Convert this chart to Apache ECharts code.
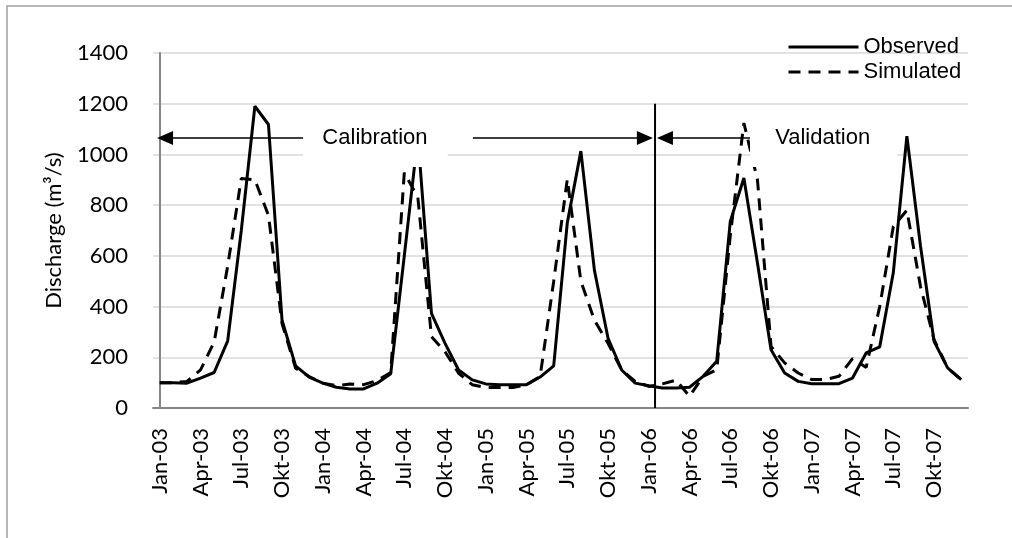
<!DOCTYPE html>
<html><head><meta charset="utf-8">
<script src="https://cdn.jsdelivr.net/npm/echarts@6/dist/echarts.min.js"></script>
<style>html,body{margin:0;padding:0;background:#fff}#c{width:1012px;height:538px}</style>
</head><body><div id="c"></div>
<script>
// ---- data ----
const categories = [
 'Jan-03','Feb-03','Mar-03','Apr-03','Mei-03','Jun-03','Jul-03','Agu-03','Sep-03','Okt-03','Nov-03','Des-03',
 'Jan-04','Feb-04','Mar-04','Apr-04','Mei-04','Jun-04','Jul-04','Agu-04','Sep-04','Okt-04','Nov-04','Des-04',
 'Jan-05','Feb-05','Mar-05','Apr-05','Mei-05','Jun-05','Jul-05','Agu-05','Sep-05','Okt-05','Nov-05','Des-05',
 'Jan-06','Feb-06','Mar-06','Apr-06','Mei-06','Jun-06','Jul-06','Agu-06','Sep-06','Okt-06','Nov-06','Des-06',
 'Jan-07','Feb-07','Mar-07','Apr-07','Mei-07','Jun-07','Jul-07','Agu-07','Sep-07','Okt-07','Nov-07','Des-07'
];
const observed = [
 100,100,98,118,140,265,700,1190,1118,346,166,122,
 98,82,75,75,98,135,600,1070,373,255,150,111,
 95,92,92,92,122,166,730,1013,542,275,150,98,
 88,79,79,82,125,184,736,907,572,230,138,105,
 96,96,96,118,217,241,533,1072,640,263,158,112
];
const simulated = [
 100,100,105,150,260,560,905,900,760,333,157,124,
 98,88,95,92,108,140,928,830,281,222,137,92,
 81,81,81,92,124,500,902,500,346,255,150,105,
 85,95,110,46,125,151,680,1124,900,243,178,138,
 112,112,125,195,160,400,715,780,480,270,158,112
];
const seriesNames = ['Observed','Simulated'];
const yMin = 0, yMax = 1400, yStep = 200;
const yTitle = 'Discharge (m\u00b3/s)';
const periodLabels = ['Calibration','Validation'];

// annotation placement in data units (x = month index, y = discharge)
const arrowLevel = 1065;
const splitX = 36.46, splitTop = 1200;
const calib = {from:-0.2, gapL:10.55, boxR:21.2, gapR:23.05, to:36.3, textX:15.84};
const valid = {from:36.6, to:43.45, boxR:54.27, textX:48.8};
const boxTop = 1167, boxBottom = 950;

const FA = 'Lato', FT = 'Liberation Sans';
const chart = echarts.init(document.getElementById('c'));
chart.setOption({
  animation:false,
  backgroundColor:'#fff',
  grid:{left:153,right:44,top:53,bottom:130,outerBoundsMode:'none'},
  legend:{data:seriesNames, orient:'vertical', left:787, top:36, padding:0, itemWidth:70, itemHeight:14, itemGap:3,
    itemStyle:{opacity:0}, lineStyle:{width:3},
    textStyle:{fontFamily:FT,fontSize:22,color:'#000'}},
  xAxis:[{type:'category',data:categories,boundaryGap:true,axisTick:{show:false},
    axisLine:{lineStyle:{color:'#868686',width:2}},
    axisLabel:{interval:2,rotate:90,margin:20,fontFamily:FA,fontSize:22,color:'#000'},
    splitLine:{show:false}},
    {type:'value',min:-0.5,max:59.5,show:false}],
  yAxis:{type:'value',min:yMin,max:yMax,interval:yStep,
    axisLine:{show:true,lineStyle:{color:'#868686',width:2}},axisTick:{show:false},
    axisLabel:{margin:25,fontFamily:FA,fontSize:22,color:'#000',formatter:v=>String(v)},
    splitLine:{lineStyle:{color:'#d9d9d9',width:1.5}},
    name:yTitle,nameLocation:'middle',nameGap:88,
    nameTextStyle:{fontFamily:FA,fontSize:22,color:'#000'}},
  series:[
    {name:seriesNames[0],type:'line',data:observed,symbol:'none',lineStyle:{color:'#000',width:3},itemStyle:{color:'#000'},z:2},
    {name:seriesNames[1],type:'line',data:simulated,symbol:'none',lineStyle:{color:'#000',width:3,type:[12,8]},itemStyle:{color:'#000'},z:3}
  ]
});

function P(x,y){return chart.convertToPixel({xAxisIndex:1,yAxisIndex:0},[x,y]);}
function headL(tip){return [[tip[0],tip[1]],[tip[0]+16,tip[1]-7],[tip[0]+16,tip[1]+7]];}
function headR(tip){return [[tip[0],tip[1]],[tip[0]-16,tip[1]-7],[tip[0]-16,tip[1]+7]];}
const g = [];
const line = (a,b,w)=>({type:'line',z:60,shape:{x1:a[0],y1:a[1],x2:b[0],y2:b[1]},style:{stroke:'#000',lineWidth:w||1.5}});
// white text boxes (they sit above the lines, as in the original)
const bt = P(calib.gapL,boxTop), bb = P(calib.boxR,boxBottom);
g.push({type:'rect',z:50,shape:{x:bt[0],y:bt[1],width:bb[0]-bt[0],height:bb[1]-bt[1]},style:{fill:'#fff'}});
const vt = P(valid.to,boxTop), vb = P(valid.boxR,boxBottom);
g.push({type:'rect',z:50,shape:{x:vt[0],y:vt[1],width:vb[0]-vt[0],height:vb[1]-vt[1]},style:{fill:'#fff'}});
// split line
g.push(line(P(splitX,0),P(splitX,splitTop),2));
// calibration arrow
const c0=P(calib.from,arrowLevel), c1=P(calib.gapL,arrowLevel), c2=P(calib.gapR,arrowLevel), c3=P(calib.to,arrowLevel);
g.push(line([c0[0]+10,c0[1]],c1)); g.push(line(c2,[c3[0]-10,c3[1]]));
g.push({type:'polygon',z:60,shape:{points:headL(c0)},style:{fill:'#000'}});
g.push({type:'polygon',z:60,shape:{points:headR(c3)},style:{fill:'#000'}});
// validation arrow
const v0=P(valid.from,arrowLevel), v1=P(valid.to,arrowLevel);
g.push(line([v0[0]+10,v0[1]],v1));
g.push({type:'polygon',z:60,shape:{points:headL(v0)},style:{fill:'#000'}});
// texts
const ct=P(calib.textX,arrowLevel), vtx=P(valid.textX,arrowLevel);
g.push({type:'text',z:70,x:ct[0],y:ct[1],style:{text:periodLabels[0],font:'22px "Liberation Sans"',fill:'#000',align:'center',verticalAlign:'middle'}});
g.push({type:'text',z:70,x:vtx[0],y:vtx[1],style:{text:periodLabels[1],font:'22px "Liberation Sans"',fill:'#000',align:'center',verticalAlign:'middle'}});
// chart frame
g.push({type:'rect',z:80,shape:{x:7,y:6,width:1040,height:600},style:{fill:'none',stroke:'#a0a0a0',lineWidth:1.5}});
chart.setOption({graphic:g});
</script></body></html>
